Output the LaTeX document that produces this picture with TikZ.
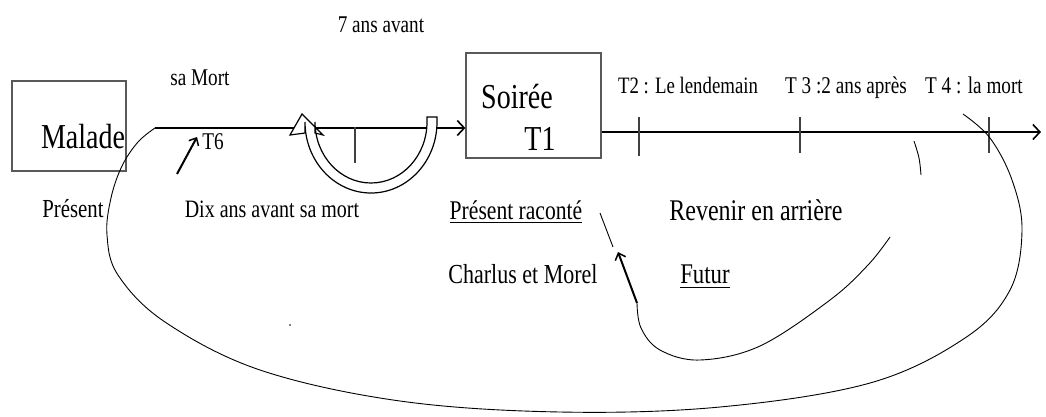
\documentclass[tikz,border=0pt]{standalone}
\usepackage{fontspec}
\setmainfont{Liberation Serif}[FakeStretch=0.8]
\usetikzlibrary{arrows.meta}
\begin{document}
\begin{tikzpicture}[x=1pt,y=-1pt,
  box/.style={draw=black!65, line width=1.3pt, inner sep=0pt},
  lbl/.style={inner sep=0pt, anchor=base, font=\fontsize{24}{26}\selectfont},
  big/.style={lbl, font=\fontsize{35}{40}\selectfont},
  axis/.style={line width=2.2pt, -{Straight Barb[length=7pt,width=15pt,line width=1.6pt]}},
  tick/.style={line width=1.2pt, black!75},
  thin/.style={line width=0.9pt},
  ul/.style={line width=0.9pt},
  smallarrow/.style={line width=2pt, -{Straight Barb[length=6pt,width=11pt,line width=1.5pt]}},
]
\useasboundingbox (0,0) rectangle (1046,416);
% boxes
\node[box, minimum width=114pt, minimum height=90pt] (malade) at (69,126) {};
\node[box, minimum width=135pt, minimum height=105pt] (soiree) at (533.5,105.5) {};
\node[big] (maladet) at (83,148) {Malade};
\node[big] (soireet) at (517,108) {Soirée};
\node[big] (t1) at (540,150) {T1};
% timelines
\coordinate (a0) at (155,128);
\coordinate (a1) at (1041,132);
\draw[axis] (a0) -- (soiree.west |- a0);
\draw[axis] (soiree.east |- a1) -- (a1);
% ticks
\draw[tick] (355,127) -- (355,163);
\draw[tick] (639,117) -- (639,156);
\draw[tick] (800,117) -- (800,153);
\draw[tick] (989,117) -- (989,153);
% hollow curved arrow
\draw[line width=1.2pt, fill=white]
  (427,117) -- (437,117) -- (437,122)
  arc[start angle=0, end angle=180, x radius=66, y radius=71]
  -- (305,133) -- (290,135) -- (302,114) -- (323,135) -- (315,133) -- (315,122)
  arc[start angle=180, end angle=0, x radius=56, y radius=61] -- cycle;
% labels
\node[lbl] (samort) at (200,85) {sa Mort};
\node[lbl] (t6) at (213,149) {T6};
\node[lbl] (sept) at (381,32) {7 ans avant};
\node[lbl, font=\fontsize{26}{28}\selectfont] (present) at (73,217) {Présent};
\node[lbl, font=\fontsize{25}{28}\selectfont] (dix) at (272,217) {Dix ans avant sa mort};
\node[lbl, font=\fontsize{23.5}{26}\selectfont] (t2) at (688,93) {T2 : Le lendemain};
\node[lbl] (t3) at (846,93) {T 3 :2 ans après};
\node[lbl] (t4) at (974,93) {T 4 : la mort};
\node[lbl, font=\fontsize{27}{29}\selectfont] (pr) at (516,219) {Présent raconté};
\node[lbl, font=\fontsize{30}{32}\selectfont] (rev) at (756,220) {Revenir en arrière};
\node[lbl, font=\fontsize{27.5}{30}\selectfont] (charlus) at (523,283) {Charlus et Morel};
\node[lbl, font=\fontsize{28.5}{30}\selectfont] (futur) at (705,283) {Futur};
\draw[ul] ([yshift=-3pt]pr.south west) -- ([yshift=-3pt]pr.south east);
\draw[ul] ([yshift=-4pt]futur.south west) -- ([yshift=-4pt]futur.south east);
% small arrows
\coordinate (t6a) at (177,174);
\coordinate (t6b) at (197,137);
\draw[smallarrow] (t6a) -- (t6b);
\coordinate (cm0) at (637,303);
\coordinate (cm1) at (618,252);
\draw[smallarrow] (cm0) -- (cm1);
\draw[thin] (600,213) -- (613,247);
% big loop
\draw[thin] plot[smooth, tension=0.6] coordinates {(963,114) (990,138) (1012,180) (1022,230) (1010,290) (965,338) (870,383) (720,407) (560,412) (400,401) (260,370) (165,322) (118,275) (107,235) (111,198) (122,166) (138,142) (155,128)};
% spiral
\draw[thin] plot[smooth, tension=0.6] coordinates {(cm0) (641,328) (660,350) (700,360) (760,346) (830,300) (868,265) (890,237)};
\draw[thin] plot[smooth, tension=0.6] coordinates {(914,141) (919,158) (921,175)};
\fill (290,325) circle (0.8pt);
\end{tikzpicture}
\end{document}
